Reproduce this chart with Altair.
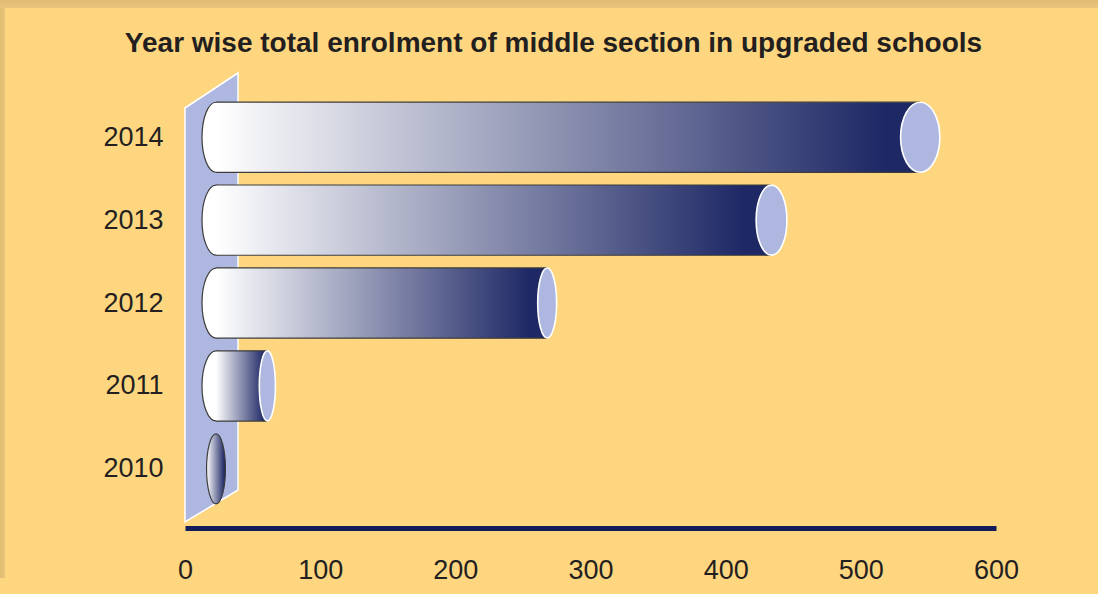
import altair as alt
import pandas as pd

# ---- data ----
years = [2010, 2011, 2012, 2013, 2014]
enrolment = [0, 38, 245, 411, 521]
x_ticks = [0, 100, 200, 300, 400, 500, 600]
title_text = "Year wise total enrolment of middle section in upgraded schools"

df = pd.DataFrame({"year": years, "value": enrolment})

# ---- style ----
BG = "#FFD680"
SHADOW = "#E9C47A"
SHADOW_DARK = "#E0BB72"
LAV = "#AEB7DF"
NAVY = "#131C5A"
BAR_END = "#1E2865"
EDGE = "#3C3C3C"
TXT = "#231F20"
FONT = "Liberation Sans"
DEPTH_PX = 31          # cylinders sit inside the 3-D depth
HALF = 0.4236          # half cylinder height, in year units
CAP_SIZE = 4900        # symbol size -> 70 px tall ellipse
PLOT_LEFT = 185        # frame geometry (pixels from the plot origin)
PLOT_TOP = 73
RIGHT_EXTRA = 102
TITLE_X = 368.5
TITLE_Y = -21


def ellipse(rx):
    k = 0.5523
    return (f"M0,-1 C{rx*k:.4f},-1 {rx:.4f},-{k} {rx:.4f},0 "
            f"C{rx:.4f},{k} {rx*k:.4f},1 0,1 "
            f"C-{rx*k:.4f},1 -{rx:.4f},{k} -{rx:.4f},0 "
            f"C-{rx:.4f},-{k} -{rx*k:.4f},-1 0,-1 Z")


LEFT_CAP = ellipse(0.4)
# perspective: end caps get wider towards the long bars (per year, 2010..2014)
end_cap_rx = [0.27, 0.23, 0.27, 0.44, 0.56]
END_CAPS = [ellipse(r) for r in end_cap_rx]

# decorative back wall (pixel geometry inside the plot area)
wall_px = [0, 53]
wall_top = [35, 0]
wall_bot = [449, 417]
wall_df = pd.DataFrame({"px": wall_px, "top": wall_top, "bot": wall_bot})

GRAD = alt.LinearGradient(
    gradient="linear", x1=0, x2=1, y1=0, y2=0,
    stops=[alt.GradientStop(color="#FFFFFF", offset=0),
           alt.GradientStop(color=BAR_END, offset=0.95),
           alt.GradientStop(color=BAR_END, offset=1)])
SHADOW_V = alt.LinearGradient(
    gradient="linear", x1=0, x2=0, y1=0, y2=1,
    stops=[alt.GradientStop(color=SHADOW_DARK, offset=0),
           alt.GradientStop(color=SHADOW, offset=1)])
SHADOW_H = alt.LinearGradient(
    gradient="linear", x1=0, x2=1, y1=0, y2=0,
    stops=[alt.GradientStop(color=SHADOW_DARK, offset=0),
           alt.GradientStop(color=SHADOW, offset=1)])

xs = alt.Scale(domain=[0, 600], nice=False, zero=True)
ys = alt.Scale(domain=[2009.286, 2014.775], nice=False, zero=False)
xa = alt.Axis(values=x_ticks, title=None, grid=False, ticks=False, tickSize=0,
              domainColor=NAVY, domainWidth=5, labelFontSize=27, labelFont=FONT,
              labelColor=TXT, labelPadding=29, labelFlush=False)
ya = alt.Axis(values=years, format="d", title=None, grid=False, ticks=False,
              tickSize=0, domain=False, labelFontSize=27, labelFont=FONT,
              labelColor=TXT, labelPadding=22)

base = alt.Chart(df).transform_calculate(
    start="0",
    y_lo=f"datum.year - {HALF}",
    y_hi=f"datum.year + {HALF}",
)

one = pd.DataFrame({"k": [0]})
top_shadow = alt.Chart(one).mark_rect(fill=SHADOW_V).encode(
    x=alt.value(-PLOT_LEFT), x2=alt.value({"expr": f"width + {RIGHT_EXTRA}"}),
    y=alt.value(-PLOT_TOP), y2=alt.value(-PLOT_TOP + 8),
)
left_shadow = alt.Chart(one).mark_rect(fill=SHADOW_H).encode(
    x=alt.value(-PLOT_LEFT), x2=alt.value(-PLOT_LEFT + 5),
    y=alt.value(-PLOT_TOP + 8), y2=alt.value({"expr": "height + 50"}),
)
title = alt.Chart(one).mark_text(
    text=title_text, fontSize=28, fontWeight="bold", font=FONT, color=TXT,
    align="center", baseline="alphabetic"
).encode(x=alt.value(TITLE_X), y=alt.value(TITLE_Y))

wall = alt.Chart(wall_df).mark_area(
    color=LAV, stroke="white", strokeWidth=1.5, opacity=1
).encode(
    x=alt.X("px:Q", scale=None, axis=None),
    y=alt.Y("top:Q", scale=None, axis=None),
    y2="bot:Q",
)

left_caps = base.transform_filter("datum.value > 0").mark_point(
    shape=LEFT_CAP, size=CAP_SIZE, filled=True, fill="#FFFFFF", stroke=EDGE,
    strokeWidth=1.2, opacity=1, xOffset=DEPTH_PX
).encode(x=alt.X("start:Q", scale=xs, axis=xa), y=alt.Y("year:Q", scale=ys, axis=ya))

zero_caps = base.transform_filter("datum.value <= 0").mark_point(
    shape=ellipse(end_cap_rx[0]), size=CAP_SIZE, filled=True, fill=GRAD,
    stroke=EDGE, strokeWidth=1.2, opacity=1, xOffset=DEPTH_PX
).encode(x=alt.X("start:Q", scale=xs, axis=xa), y=alt.Y("year:Q", scale=ys, axis=ya))

body = base.transform_filter("datum.value > 0").mark_rect(
    fill=GRAD, xOffset=DEPTH_PX, x2Offset=DEPTH_PX
).encode(
    x=alt.X("start:Q", scale=xs, axis=xa), x2="value:Q",
    y=alt.Y("y_lo:Q", scale=ys, axis=ya), y2="y_hi:Q",
)

top_edge = base.transform_filter("datum.value > 0").mark_rule(
    color=EDGE, strokeWidth=1.2, xOffset=DEPTH_PX, x2Offset=DEPTH_PX
).encode(
    x=alt.X("start:Q", scale=xs, axis=xa), x2="value:Q",
    y=alt.Y("y_hi:Q", scale=ys, axis=ya),
)

bottom_edge = base.transform_filter("datum.value > 0").mark_rule(
    color=EDGE, strokeWidth=1.2, xOffset=DEPTH_PX, x2Offset=DEPTH_PX
).encode(
    x=alt.X("start:Q", scale=xs, axis=xa), x2="value:Q",
    y=alt.Y("y_lo:Q", scale=ys, axis=ya),
)

right_caps = base.transform_filter("datum.value > 0").mark_point(
    size=CAP_SIZE, filled=True, fill=LAV, stroke="white",
    strokeWidth=1.6, opacity=1, xOffset=DEPTH_PX
).encode(
    x=alt.X("value:Q", scale=xs, axis=xa),
    y=alt.Y("year:Q", scale=ys, axis=ya),
    shape=alt.Shape("year:N", scale=alt.Scale(domain=years, range=END_CAPS),
                    legend=None),
)

chart = alt.layer(
    top_shadow, left_shadow, title, wall, left_caps, zero_caps, body, top_edge,
    bottom_edge, right_caps
).properties(
    width=1098, height=594,
    autosize=alt.AutoSizeParams(type="fit", contains="padding"),
    padding={"left": 0, "top": 0, "right": 0, "bottom": 11},
    background=BG,
).configure_view(stroke=None)

chart.save("out.html", embed_options={"renderer": "svg", "actions": False})
